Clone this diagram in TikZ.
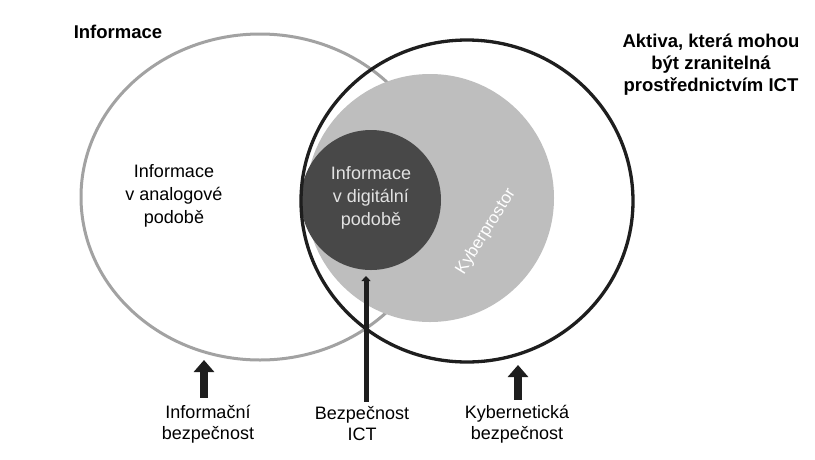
\documentclass[tikz,border=0pt]{standalone}
\usepackage{fontspec}
\setmainfont{Liberation Sans}
\usetikzlibrary{arrows.meta,shapes.geometric}

\definecolor{ringgray}{HTML}{A2A2A2}
\definecolor{ringblack}{HTML}{1E1E1E}
\definecolor{cyberfill}{HTML}{BEBEBE}
\definecolor{digitalfill}{HTML}{484848}
\definecolor{digitaltext}{HTML}{E2E2E2}

\begin{document}
\begin{tikzpicture}[x=1pt,y=-1pt,
  txt/.style={font=\fontsize{18}{23}\selectfont, align=center, inner sep=0pt},
  hdr/.style={font=\fontsize{18.5}{22}\selectfont\bfseries, align=center, inner sep=0pt},
  foot/.style={font=\fontsize{18}{21}\selectfont, align=center, inner sep=0pt},
  ring/.style={ellipse, draw, inner sep=0pt},
  blob/.style={circle, inner sep=0pt},
  blockarrow/.style={line width=8pt, draw=ringblack, -{Triangle[width=20pt,length=12pt]}},
  ictline/.style={line width=5pt, draw=ringblack, -{Triangle[width=9pt,length=5pt]}}]

\useasboundingbox (0,0) rectangle (815,459);
\fill[white] (0,0) rectangle (815,459);

% information ellipse (grey outline)
\node[ring, draw=ringgray, line width=3pt, minimum width=358pt, minimum height=326pt] (info) at (260,197) {};
% cyberspace disc
\node[blob, fill=cyberfill, minimum size=248pt] (cyber) at (430,198) {};
% digital information disc
\node[blob, fill=digitalfill, minimum size=140pt] (digital) at (371,200) {};
% ICT-vulnerable assets ellipse (black outline)
\node[ring, draw=ringblack, line width=3.3pt, minimum width=332pt, minimum height=322pt] (assets) at (467,201) {};

% headings
\node[hdr] (infohead) at (118,32) {Informace};
\node[hdr] (assetshead) at (711,65) {Aktiva, která mohou\\být zranitelná\\prostřednictvím ICT};

% inner texts
\node[txt] (analog) at (174,196) {Informace\\v analogové\\podobě};
\node[txt, text=digitaltext] (digitext) at (371,198) {Informace\\v digitální\\podobě};
\node[font=\fontsize{17}{20}\selectfont, text=white, rotate=58, inner sep=0pt] (cybertext) at (486,232) {Kyberprostor};

% security labels
\node[foot] (infosec) at (208,424) {Informační\\bezpečnost};
\node[foot] (ictsec) at (362,424) {Bezpečnost\\ICT};
\node[foot] (cybersec) at (517,424) {Kybernetická\\bezpečnost};

% pointers
\coordinate (infotip) at (204,360);
\coordinate (cybertip) at (518,365);
\draw[blockarrow] (infotip |- infosec.north) ++(0,-7) -- (infotip);
\draw[blockarrow] (cybertip |- cybersec.north) ++(0,-5) -- (cybertip);
\coordinate (icttop) at (366,276);
\draw[ictline] (icttop |- ictsec.north) ++(0,-5) -- (icttop);

\end{tikzpicture}
\end{document}
